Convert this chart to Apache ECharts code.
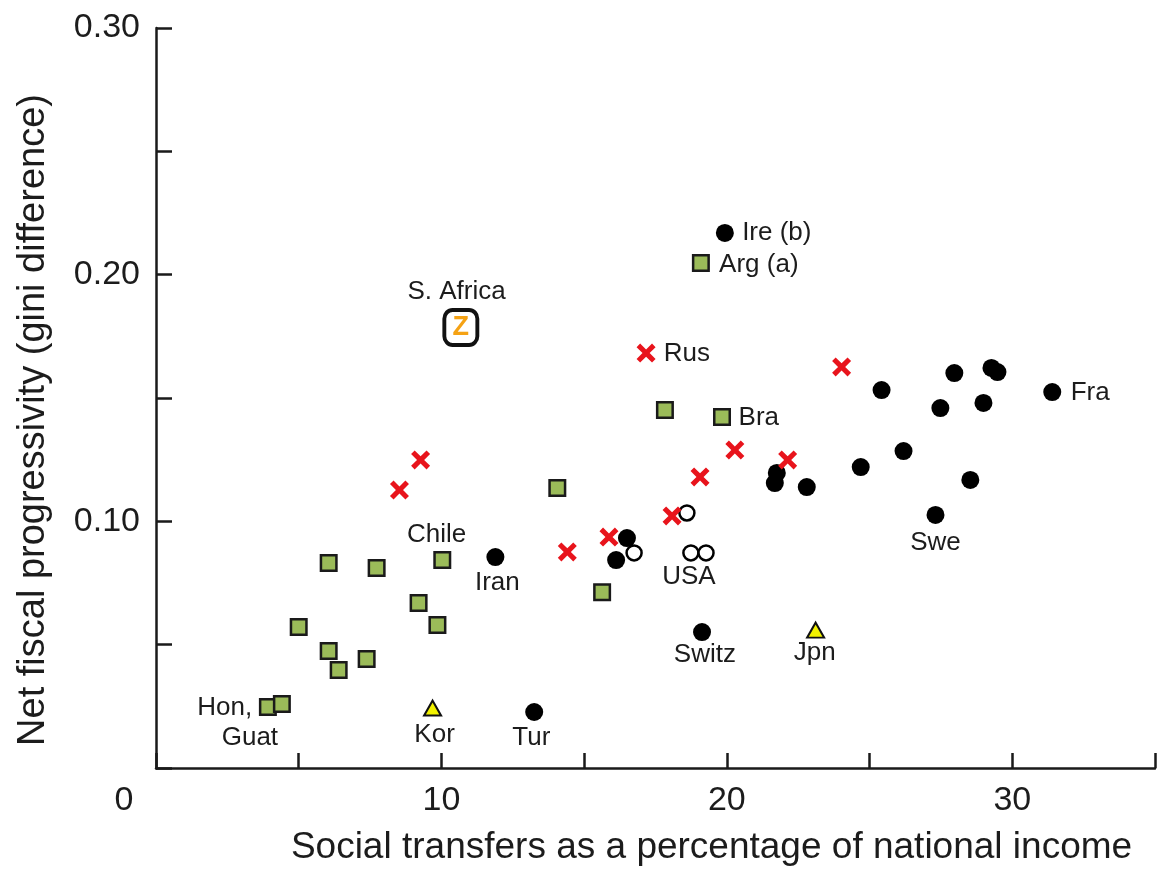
<!DOCTYPE html>
<html>
<head>
<meta charset="utf-8">
<script src="https://cdn.jsdelivr.net/npm/echarts@6/dist/echarts.min.js"></script>
<style>
html,body{margin:0;padding:0;background:#fff;}
#chart{width:1158px;height:871px;}
</style>
</head>
<body>
<div id="chart"></div>
<script>
// ---- data (x: social transfers % of national income, y: net fiscal progressivity) ----
const blackCircles = [
  [19.93,0.2169],[11.89,0.0855],[16.50,0.0932],[16.12,0.0843],[13.25,0.0227],
  [19.13,0.0551],[21.75,0.1196],[21.68,0.1155],[22.80,0.1139],[24.69,0.1220],
  [25.42,0.1532],[26.19,0.1285],[27.97,0.1601],[27.48,0.1459],[29.27,0.1622],
  [29.48,0.1605],[28.99,0.1480],[28.53,0.1168],[27.31,0.1026],[31.40,0.1524]
];
const hollowCircles = [[18.60,0.1034],[16.75,0.0872],[18.74,0.0872],[19.27,0.0872]];
const redCrosses = [
  [17.17,0.1682],[24.02,0.1626],[9.27,0.1249],[8.53,0.1127],[20.28,0.1289],
  [22.13,0.1249],[19.06,0.1180],[18.08,0.1022],[15.87,0.0936],[14.41,0.0876]
];
const greenSquares = [
  [19.09,0.2047],[17.83,0.1451],[19.83,0.1423],[14.06,0.1135],[6.05,0.0831],
  [7.73,0.0811],[10.03,0.0843],[9.20,0.0669],[9.86,0.0580],[5.00,0.0572],
  [6.05,0.0474],[6.40,0.0397],[7.38,0.0442],[15.63,0.0713],[3.92,0.0247],[4.41,0.0259]
];
const yellowTriangles = [[9.69,0.0243],[23.11,0.0559]];
const southAfrica = [[10.68,0.1786]];
const countryLabels = ['Ire (b)','Arg (a)','S. Africa','Rus','Bra','Fra','Chile','Iran','USA','Swe','Switz','Jpn','Tur','Kor','Hon,','Guat'];
const labelAnchors = [
  [21.75,0.2169],[21.12,0.2039],[10.53,0.1930],[18.60,0.1678],[21.12,0.1419],[32.73,0.1520],
  [9.83,0.0945],[11.96,0.0750],[18.67,0.0774],[27.31,0.0912],[19.23,0.0458],[23.08,0.0466],
  [13.15,0.0122],[9.76,0.0134],[2.41,0.0243],[3.29,0.0122]
];
const xTicks = [0,10,20,30];
const yTicks = ['0.10','0.20','0.30'];

const AX = '#1a1a1a';
const TXT = '#1c1c1c';
const crossPath = 'path://M3,0 L8,5 L13,0 L16,3 L11,8 L16,13 L13,16 L8,11 L3,16 L0,13 L5,8 L0,3 Z';

const chart = echarts.init(document.getElementById('chart'), null, {renderer:'canvas'});
chart.setOption({
  animation:false,
  backgroundColor:'#fff',
  grid:{left:156,right:1,top:28,bottom:103,containLabel:false},
  xAxis:{
    type:'value',min:0,max:35,interval:5,
    axisLine:{show:true,lineStyle:{color:AX,width:2.5}},
    axisTick:{show:true,inside:true,length:15,lineStyle:{color:AX,width:2.5}},
    splitLine:{show:false},
    axisLabel:{
      margin:16,color:TXT,fontFamily:'Liberation Sans',fontSize:34,
      formatter:function(v){
        if(xTicks.indexOf(v)<0) return '';
        if(v===0) return '{z|0}';
        return String(v);
      },
      rich:{z:{fontFamily:'Liberation Sans',fontSize:34,color:TXT,padding:[0,64,0,0]}}
    },
    name:'Social transfers as a percentage of national income',
    nameLocation:'middle',nameGap:61,
    nameTextStyle:{color:TXT,fontFamily:'Liberation Sans',fontSize:37,padding:[0,0,0,112]}
  },
  yAxis:{
    type:'value',min:0,max:0.3,interval:0.05,
    axisLine:{show:true,lineStyle:{color:AX,width:2.5}},
    axisTick:{show:true,inside:true,length:16,lineStyle:{color:AX,width:2.5}},
    splitLine:{show:false},
    axisLabel:{
      margin:16,color:TXT,fontFamily:'Liberation Sans',fontSize:34,
      formatter:function(v){
        const s=v.toFixed(2);
        return yTicks.indexOf(s)>=0?s:'';
      }
    },
    name:'Net fiscal progressivity (gini difference)',
    nameLocation:'middle',nameRotate:90,nameGap:103,
    nameTextStyle:{color:TXT,fontFamily:'Liberation Sans',fontSize:38,padding:[0,44,0,0]}
  },
  series:[
    {type:'scatter',data:greenSquares,symbol:'rect',symbolSize:15.5,
     itemStyle:{color:'#9bbb59',borderColor:'#1a1a1a',borderWidth:2.5,opacity:1},z:2},
    {type:'scatter',data:blackCircles,symbol:'circle',symbolSize:18,
     itemStyle:{color:'#000',opacity:1},z:3},
    {type:'scatter',data:hollowCircles,symbol:'circle',symbolSize:15,
     itemStyle:{color:'#fff',borderColor:'#000',borderWidth:2.5,opacity:1},z:3},
    {type:'scatter',data:redCrosses,symbol:crossPath,symbolSize:19,
     itemStyle:{color:'#e8141c',opacity:1},z:4},
    {type:'scatter',data:yellowTriangles,symbol:'triangle',symbolSize:[17,15],
     itemStyle:{color:'#f2f200',borderColor:'#111',borderWidth:2,opacity:1},z:4},
    {type:'scatter',data:southAfrica,symbol:'roundRect',symbolSize:[33,35],
     itemStyle:{color:'#fff',borderColor:'#111',borderWidth:4,opacity:1},z:4,
     label:{show:true,position:'inside',formatter:'Z',color:'#f5a214',opacity:1,fontFamily:'Liberation Sans',fontWeight:'bold',fontSize:27}},
    {type:'scatter',symbolSize:0,z:5,silent:true,
     itemStyle:{opacity:1,color:'#000'},
     data:labelAnchors.map(function(p,i){return {name:countryLabels[i],value:p};}),
     label:{show:true,position:'inside',formatter:'{b}',color:TXT,opacity:1,fontFamily:'Liberation Sans',fontSize:26}}
  ]
});
</script>
</body>
</html>
